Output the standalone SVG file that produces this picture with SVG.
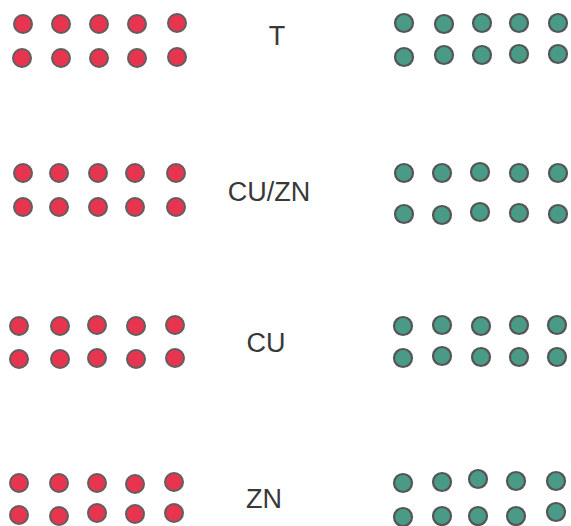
<svg xmlns="http://www.w3.org/2000/svg" width="571" height="526" viewBox="0 0 571 526">
<style>
.r{fill:#e8354f;stroke:#5f5f5f;stroke-width:2}
.g{fill:#4a9a88;stroke:#555;stroke-width:2.2}
.t{font-family:"Liberation Sans",Arial,sans-serif;font-size:27px;fill:#383838;text-anchor:middle}
</style>
<rect width="571" height="526" fill="#fff"/>
<g id="group-T">
<g class="r"><circle cx="23" cy="24" r="9"/><circle cx="61" cy="24" r="9"/><circle cx="99" cy="24" r="9"/><circle cx="137" cy="24" r="9"/><circle cx="177" cy="23" r="9"/>
<circle cx="22" cy="58" r="9"/><circle cx="61" cy="58" r="9"/><circle cx="99" cy="58" r="9"/><circle cx="137" cy="58" r="9"/><circle cx="177" cy="57" r="9"/></g>
<text class="t" x="277" y="45">T</text>
<g class="g"><circle cx="404" cy="23" r="9"/><circle cx="444" cy="24" r="9"/><circle cx="482" cy="23" r="9"/><circle cx="519" cy="23" r="9"/><circle cx="558" cy="23" r="9"/>
<circle cx="404" cy="57" r="9"/><circle cx="444" cy="55" r="9"/><circle cx="482" cy="55" r="9"/><circle cx="519" cy="54" r="9"/><circle cx="558" cy="54" r="9"/></g>
</g>
<g id="group-CUZN">
<g class="r"><circle cx="23" cy="173" r="9"/><circle cx="59" cy="173" r="9"/><circle cx="98" cy="173" r="9"/><circle cx="135" cy="173" r="9"/><circle cx="176" cy="173" r="9"/>
<circle cx="23" cy="207" r="9"/><circle cx="59" cy="207" r="9"/><circle cx="98" cy="207" r="9"/><circle cx="135" cy="207" r="9"/><circle cx="176" cy="207" r="9"/></g>
<text class="t" x="269" y="201">CU/ZN</text>
<g class="g"><circle cx="404" cy="173" r="9"/><circle cx="442" cy="173" r="9"/><circle cx="480" cy="172" r="9"/><circle cx="519" cy="173" r="9"/><circle cx="558" cy="173" r="9"/>
<circle cx="404" cy="214" r="9"/><circle cx="442" cy="215" r="9"/><circle cx="480" cy="212" r="9"/><circle cx="519" cy="213" r="9"/><circle cx="558" cy="214" r="9"/></g>
</g>
<g id="group-CU">
<g class="r"><circle cx="19" cy="326" r="9"/><circle cx="60" cy="326" r="9"/><circle cx="97" cy="325" r="9"/><circle cx="136" cy="326" r="9"/><circle cx="175" cy="325" r="9"/>
<circle cx="19" cy="359" r="9"/><circle cx="60" cy="359" r="9"/><circle cx="97" cy="358" r="9"/><circle cx="136" cy="359" r="9"/><circle cx="175" cy="358" r="9"/></g>
<text class="t" x="266" y="352">CU</text>
<g class="g"><circle cx="403" cy="326" r="9"/><circle cx="442" cy="325" r="9"/><circle cx="481" cy="326" r="9"/><circle cx="519" cy="325" r="9"/><circle cx="557" cy="325" r="9"/>
<circle cx="403" cy="358" r="9"/><circle cx="442" cy="356" r="9"/><circle cx="481" cy="357" r="9"/><circle cx="519" cy="357" r="9"/><circle cx="557" cy="357" r="9"/></g>
</g>
<g id="group-ZN">
<g class="r"><circle cx="19" cy="483" r="9"/><circle cx="59" cy="483" r="9"/><circle cx="97" cy="483" r="9"/><circle cx="135" cy="484" r="9"/><circle cx="174" cy="482" r="9"/>
<circle cx="19" cy="515" r="9"/><circle cx="59" cy="516" r="9"/><circle cx="97" cy="513" r="9"/><circle cx="135" cy="514" r="9"/><circle cx="174" cy="513" r="9"/></g>
<text class="t" x="264" y="508">ZN</text>
<g class="g"><circle cx="403" cy="483" r="9"/><circle cx="442" cy="482" r="9"/><circle cx="478" cy="479" r="9"/><circle cx="516" cy="481" r="9"/><circle cx="556" cy="481" r="9"/>
<circle cx="403" cy="517" r="9"/><circle cx="442" cy="516" r="9"/><circle cx="478" cy="516" r="9"/><circle cx="516" cy="516" r="9"/><circle cx="556" cy="512" r="9"/></g>
</g>
<g id="connectors"/>
</svg>
